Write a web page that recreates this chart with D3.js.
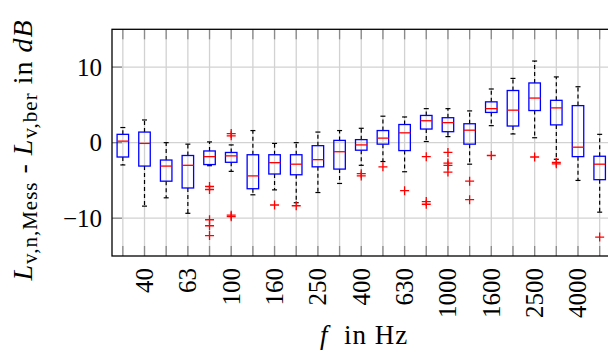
<!DOCTYPE html>
<html>
<head>
<meta charset="utf-8">
<script src="https://cdn.jsdelivr.net/npm/d3@7"></script>
<style>
    body { margin: 0; background: #fff; }
</style>
</head>
<body>
<div class="chart"></div>
<script>
// third octave bands
var freqs = ["31.5", "40", "50", "63", "80", "100", "125", "160", "200", "250", "315", "400",
    "500", "630", "800", "1000", "1250", "1600", "2000", "2500", "3150", "4000", "5000"];
var yTicks = [-10, 0, 10];

// box plot statistics per band, in dB
var whiskerHigh = [2.0, 3.0, 0.0, -0.2, 0.1, -0.3, 1.6, -0.1, 0.0, 1.4, 1.6, 1.9, 3.5, 3.4, 4.5, 4.5, 4.2, 7.1, 8.5, 10.8, 8.7, 7.4, 1.1];
var q3 = [1.1, 1.4, -2.3, -1.7, -1.1, -1.3, -1.6, -1.6, -1.6, -0.4, 0.3, 0.4, 1.6, 2.4, 3.6, 3.3, 2.5, 5.4, 6.9, 7.9, 5.6, 4.9, -1.8];
var median = [0.2, -0.1, -3.1, -3.0, -1.85, -1.75, -4.4, -2.65, -2.85, -2.25, -1.2, -0.3, 0.6, 1.3, 2.9, 2.65, 1.65, 4.5, 4.3, 5.9, 4.6, -0.6, -2.85];
var q1 = [-1.9, -3.1, -5.1, -6.0, -2.9, -2.6, -6.1, -4.15, -4.25, -3.2, -3.5, -1.0, -0.2, -1.05, 1.8, 1.45, -0.2, 4.0, 2.2, 4.25, 2.35, -1.85, -4.9];
var whiskerLow = [-2.95, -8.4, -7.3, -9.35, -3.05, -3.8, -6.9, -6.25, -7.95, -6.6, -5.4, -3.0, -2.5, -3.85, 0.15, 0.8, -2.85, 2.25, 1.15, 0.65, -2.2, -5.0, -9.2];
var outliers = [[], [], [], [], [-5.8, -6.2, -10.2, -11.0, -12.3], [0.9, 1.2, -9.6, -9.8], [], [-8.25], [-8.35], [], [],
    [-4.1, -4.4], [-3.2], [-6.35], [-1.85, -7.8, -8.15], [-1.3, -2.7, -3.0, -3.9], [-5.1, -7.55], [-1.7], [], [-1.9],
    [-2.6, -2.8], [], [-12.5]];

var width = 608, height = 352;
var plotLeft = 112, plotTop = 29.3, plotBottom = 256, plotRight = 610.5;
var font = "Liberation Serif";

var svg = d3.select(".chart").append("svg")
    .attr("width", width)
    .attr("height", height);

var xScale = d3.scaleLinear()
    .domain([0.5, freqs.length + 0.5])
    .range([plotLeft, plotRight]);

var yScale = d3.scaleLinear()
    .domain([-15, 15])
    .range([plotBottom, plotTop]);

// grid
svg.append("g").selectAll("line")
    .data(freqs)
    .enter().append("line")
    .attr("x1", function (d, i) { return xScale(i + 1); })
    .attr("x2", function (d, i) { return xScale(i + 1); })
    .attr("y1", plotTop)
    .attr("y2", plotBottom)
    .attr("stroke", "#d2d2d2")
    .attr("stroke-width", 1.3);

svg.append("g").selectAll("line")
    .data(yTicks)
    .enter().append("line")
    .attr("x1", plotLeft)
    .attr("x2", width)
    .attr("y1", function (d) { return yScale(d); })
    .attr("y2", function (d) { return yScale(d); })
    .attr("stroke", "#d2d2d2")
    .attr("stroke-width", 1.3);

// tick marks (inside)
var ticks = svg.append("g").attr("stroke", "#8a8a8a").attr("stroke-width", 1.3);
freqs.forEach(function (d, i) {
    var x = xScale(i + 1);
    ticks.append("line").attr("x1", x).attr("x2", x).attr("y1", plotBottom).attr("y2", plotBottom - 10);
    ticks.append("line").attr("x1", x).attr("x2", x).attr("y1", plotTop).attr("y2", plotTop + 10);
});
yTicks.forEach(function (d) {
    ticks.append("line").attr("x1", plotLeft).attr("x2", plotLeft + 10).attr("y1", yScale(d)).attr("y2", yScale(d));
});

// tick labels
svg.append("g").selectAll("text")
    .data(yTicks)
    .enter().append("text")
    .attr("x", 102)
    .attr("y", function (d) { return yScale(d); })
    .attr("dy", "0.34em")
    .attr("text-anchor", "end")
    .attr("font-family", font)
    .style("font-family", font)
    .style("font-size", "25px")
    .text(function (d) { return d < 0 ? "\u2212" + Math.abs(d) : d; });

svg.append("g").selectAll("text")
    .data(freqs.filter(function (d, i) { return i % 2 == 1; }))
    .enter().append("text")
    .attr("transform", function (d) {
        return "translate(" + xScale(freqs.indexOf(d) + 1) + ",268) rotate(-90)";
    })
    .attr("dy", "0.34em")
    .attr("text-anchor", "end")
    .attr("font-family", font)
    .style("font-family", font)
    .style("font-size", "25px")
    .text(function (d) { return d; });

// boxes
var boxW = 11.5, capW = 5;
var boxes = svg.append("g");

freqs.forEach(function (d, i) {
    var x = xScale(i + 1);
    var g = boxes.append("g");

    // whiskers
    g.append("line").attr("x1", x).attr("x2", x)
        .attr("y1", yScale(q3[i])).attr("y2", yScale(whiskerHigh[i]))
        .attr("stroke", "#000").attr("stroke-width", 1.2).attr("stroke-dasharray", "4,3");
    g.append("line").attr("x1", x).attr("x2", x)
        .attr("y1", yScale(q1[i])).attr("y2", yScale(whiskerLow[i]))
        .attr("stroke", "#000").attr("stroke-width", 1.2).attr("stroke-dasharray", "4,3");
    g.append("line").attr("x1", x - capW / 2).attr("x2", x + capW / 2)
        .attr("y1", yScale(whiskerHigh[i])).attr("y2", yScale(whiskerHigh[i]))
        .attr("stroke", "#000").attr("stroke-width", 1.2);
    g.append("line").attr("x1", x - capW / 2).attr("x2", x + capW / 2)
        .attr("y1", yScale(whiskerLow[i])).attr("y2", yScale(whiskerLow[i]))
        .attr("stroke", "#000").attr("stroke-width", 1.2);

    // box
    g.append("rect")
        .attr("x", x - boxW / 2)
        .attr("y", yScale(q3[i]))
        .attr("width", boxW)
        .attr("height", yScale(q1[i]) - yScale(q3[i]))
        .attr("fill", "none")
        .attr("stroke", "#0000ff")
        .attr("stroke-width", 1.3);

    // median
    g.append("line").attr("x1", x - boxW / 2).attr("x2", x + boxW / 2)
        .attr("y1", yScale(median[i])).attr("y2", yScale(median[i]))
        .attr("stroke", "#ff0000").attr("stroke-width", 1.3);

    // outliers
    outliers[i].forEach(function (v) {
        var y = yScale(v);
        g.append("path")
            .attr("d", "M" + (x - 4.5) + "," + y + "H" + (x + 4.5) + "M" + x + "," + (y - 4.5) + "V" + (y + 4.5))
            .attr("stroke", "#ff0000")
            .attr("stroke-width", 1.3);
    });
});

// frame
svg.append("rect")
    .attr("x", plotLeft)
    .attr("y", plotTop)
    .attr("width", plotRight - plotLeft)
    .attr("height", plotBottom - plotTop)
    .attr("fill", "none")
    .attr("stroke", "#000")
    .attr("stroke-width", 1.3);

// axis labels
var xlab = svg.append("text")
    .attr("x", 364)
    .attr("y", 344)
    .attr("text-anchor", "middle")
    .attr("font-family", font)
    .style("font-family", font)
    .style("font-size", "27px")
    .style("letter-spacing", "1px")
    .style("white-space", "pre");
xlab.append("tspan").style("font-style", "italic").text("f");
xlab.append("tspan").text("  in Hz");

var ylab = svg.append("text")
    .attr("transform", "translate(32,150) rotate(-90)")
    .attr("text-anchor", "middle")
    .attr("font-family", font)
    .style("font-family", font)
    .style("font-size", "28px")
    .style("letter-spacing", "1px")
    .style("white-space", "pre");
ylab.append("tspan").style("font-style", "italic").text("L");
ylab.append("tspan").attr("dy", 5).style("font-size", "21px").text("v,n,Mess");
ylab.append("tspan").attr("dy", -5).text(" - ");
ylab.append("tspan").style("font-style", "italic").text("L");
ylab.append("tspan").attr("dy", 5).style("font-size", "21px").text("v,ber");
ylab.append("tspan").attr("dy", -5).text(" in ");
ylab.append("tspan").style("font-style", "italic").text("dB");
</script>
</body>
</html>
